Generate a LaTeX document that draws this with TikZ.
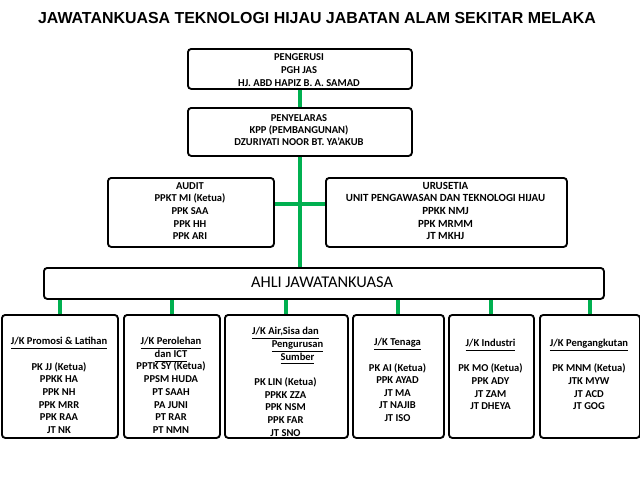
\documentclass[tikz,border=0pt]{standalone}
\usepackage{fontspec}
\setmainfont{Carlito}
\newfontfamily\titlefont{Liberation Sans}
\definecolor{orggreen}{RGB}{0,176,80}
\newcommand\jkul[1]{\underline{#1\vphantom{g}}}
\pgfdeclarelayer{background}
\pgfsetlayers{background,main}
\begin{document}
\begin{tikzpicture}[x=0.75pt,y=-0.75pt,
  box/.style={draw=black,line width=1.4pt,rounded corners=2.5pt,inner sep=0pt,anchor=north west},
  txt/.style={font=\bfseries\fontsize{7.9}{9.5}\selectfont,align=center,inner sep=0pt},
  link/.style={draw=orggreen,line width=3pt}]
\useasboundingbox (0,0) rectangle (640,480);
\node[font=\titlefont\bfseries\fontsize{11.95}{13}\selectfont,inner sep=0pt] (title) at (317,18.5)
  {JAWATANKUASA TEKNOLOGI HIJAU JABATAN ALAM SEKITAR MELAKA};
% top boxes
\node[box,minimum width=224*0.75pt,minimum height=40*0.75pt] (peng) at (187,48) {};
\node[txt,font=\bfseries\fontsize{7.9}{9.75}\selectfont] (pengt) at (299,70) {PENGERUSI\\PGH JAS\\HJ. ABD HAPIZ B. A. SAMAD};
\node[box,minimum width=224*0.75pt,minimum height=48*0.75pt] (peny) at (187,107) {};
\node[txt,font=\bfseries\fontsize{7.9}{9.1}\selectfont] (penyt) at (299,130) {PENYELARAS\\KPP (PEMBANGUNAN)\\DZURIYATI NOOR BT. YA'AKUB};
\node[box,minimum width=166*0.75pt,minimum height=69*0.75pt] (audit) at (107,177) {};
\node[txt] (auditt) at (190,211) {AUDIT\\PPKT MI (Ketua)\\PPK SAA\\PPK HH\\PPK ARI};
\node[box,minimum width=241*0.75pt,minimum height=69*0.75pt] (urus) at (325,177) {};
\node[txt,font=\bfseries\fontsize{8.2}{9.5}\selectfont] (urust) at (445.5,211) {URUSETIA\\UNIT PENGAWASAN DAN TEKNOLOGI HIJAU\\PPKK NMJ\\PPK MRMM\\JT MKHJ};
\node[box,minimum width=560*0.75pt,minimum height=31*0.75pt] (ahli) at (43,267) {};
\node[txt,font=\fontsize{12.3}{14}\selectfont] (ahlit) at (322,282.5) {AHLI JAWATANKUASA};
% bottom boxes
\node[box,minimum width=116*0.75pt,minimum height=123*0.75pt] (b1) at (1,314) {};
\node[box,minimum width=96*0.75pt,minimum height=123*0.75pt] (b2) at (123,314) {};
\node[box,minimum width=123*0.75pt,minimum height=123*0.75pt] (b3) at (224,314) {};
\node[box,minimum width=91*0.75pt,minimum height=123*0.75pt] (b4) at (352,314) {};
\node[box,minimum width=85*0.75pt,minimum height=123*0.75pt] (b5) at (448,314) {};
\node[box,minimum width=100*0.75pt,minimum height=123*0.75pt] (b6) at (539,314) {};
\node[txt,anchor=north] (b1t) at (59,337) {\jkul{J/K Promosi \& Latihan}\\[9.5pt]PK JJ (Ketua)\\PPKK HA\\PPK NH\\PPK MRR\\PPK RAA\\JT NK};
\node[txt,anchor=north] (b2t) at (171,337) {\jkul{J/K Perolehan}\\\jkul{dan ICT}\\PPTK SY (Ketua)\\PPSM HUDA\\PT SAAH\\PA JUNI\\PT RAR\\PT NMN};
\node[txt,anchor=north] (b3t) at (285.5,327) {\jkul{J/K Air,Sisa dan}\\\hspace*{18pt}\jkul{Pengurusan}\\\hspace*{18pt}\jkul{Sumber}\\[9.5pt]PK LIN (Ketua)\\PPKK ZZA\\PPK NSM\\PPK FAR\\JT SNO};
\node[txt,anchor=north] (b4t) at (397.5,338) {\jkul{J/K Tenaga}\\[9.5pt]PK AI (Ketua)\\PPK AYAD\\JT MA\\JT NAJIB\\JT ISO};
\node[txt,anchor=north] (b5t) at (490.5,339) {\jkul{J/K Industri}\\[9.5pt]PK MO (Ketua)\\PPK ADY\\JT ZAM\\JT DHEYA};
\node[txt,anchor=north] (b6t) at (589,339) {\jkul{J/K Pengangkutan}\\[9.5pt]PK MNM (Ketua)\\JTK MYW\\JT ACD\\JT GOG};
% connectors
\begin{pgfonlayer}{background}
\draw[link] (peng.south) -- (peny.north);
\draw[link] (peny.south) -- (peny.south |- ahli.north);
\draw[link] ([yshift=6.4pt]audit.east) -- ([yshift=6.4pt]urus.west);
\foreach \b in {b1,b2,b3,b4,b5,b6}
  \draw[link] (\b.north) -- (\b.north |- ahli.south);
\end{pgfonlayer}
\end{tikzpicture}
\end{document}
